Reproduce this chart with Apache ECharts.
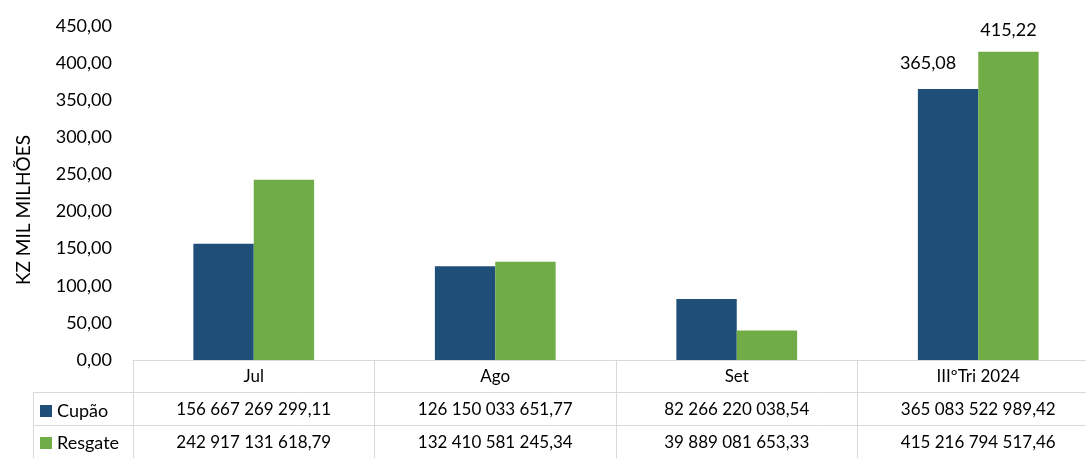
<!DOCTYPE html>
<html>
<head>
<meta charset="utf-8">
<script src="https://cdn.jsdelivr.net/npm/echarts@6/dist/echarts.min.js"></script>
<style>
  html, body { margin: 0; padding: 0; background: #fff; }
  #chart { width: 1086px; height: 458px; }
</style>
</head>
<body>
<div id="chart"></div>
<script>
// Periods shown along the category axis
const categories = ['Jul', 'Ago', 'Set', 'IIIºTri 2024'];
// Amounts in Kwanzas
const cupao = [156667269299.11, 126150033651.77, 82266220038.54, 365083522989.42];
const resgate = [242917131618.79, 132410581245.34, 39889081653.33, 415216794517.46];
const seriesNames = ['Cupão', 'Resgate'];
const yTicks = { min: 0, max: 450, interval: 50 };

const FONT = 'Lato';
const GRID_COLOR = '#d9d9d9';
const COLORS = ['#1f4e79', '#70ad47'];

// Portuguese-style number: space thousands separator, comma decimals
function fmt(v) {
  const parts = v.toFixed(2).split('.');
  return parts[0].replace(/\B(?=(\d{3})+(?!\d))/g, ' ') + ',' + parts[1];
}
const toMilMilhoes = v => v / 1e9;

const cupaoBars = cupao.map(toMilMilhoes);
const resgateBars = resgate.map(toMilMilhoes);
const last = categories.length - 1;

function withLastLabel(values, labelOpts) {
  return values.map((v, i) => i === last
    ? { value: v, label: Object.assign({ show: true, formatter: p => fmt(p.value) }, labelOpts) }
    : v);
}

const chart = echarts.init(document.getElementById('chart'));
chart.setOption({
  animation: false,
  textStyle: { fontFamily: FONT },
  color: COLORS,
  legend: {
    data: seriesNames,
    orient: 'vertical',
    left: 35,
    top: 397,
    itemWidth: 12,
    itemHeight: 12,
    itemGap: 14,
    icon: 'rect',
    selectedMode: false,
    textStyle: { fontFamily: FONT, fontSize: 18, color: '#000' }
  },
  grid: { left: 133, top: 26, width: 966, height: 334, outerBoundsMode: 'none', containLabel: false },
  xAxis: {
    type: 'category',
    data: categories,
    axisLine: { lineStyle: { color: GRID_COLOR, width: 1 } },
    axisTick: { show: true, length: 98, interval: 0, lineStyle: { color: GRID_COLOR, width: 1 } },
    axisLabel: {
      interval: 0,
      margin: 0,
      formatter: (val, idx) =>
        '{h|' + val + '}\n{v|' + fmt(cupao[idx]) + '}\n{v|' + fmt(resgate[idx]) + '}',
      rich: {
        h: { fontFamily: FONT, fontSize: 17, color: '#000', lineHeight: 33 },
        v: { fontFamily: FONT, fontSize: 17, color: '#000', lineHeight: 33 }
      }
    }
  },
  yAxis: {
    type: 'value',
    min: yTicks.min,
    max: yTicks.max,
    interval: yTicks.interval,
    name: 'KZ MIL MILHÕES',
    nameLocation: 'middle',
    nameRotate: 90,
    nameGap: 100,
    nameTextStyle: { fontFamily: FONT, fontSize: 19, color: '#000', padding: [0, 34, 0, 0] },
    axisLine: { show: false },
    axisTick: { show: false },
    splitLine: { show: false },
    axisLabel: {
      margin: 21,
      fontFamily: FONT,
      fontSize: 18,
      color: '#000',
      formatter: v => v.toFixed(2).replace('.', ',')
    }
  },
  graphic: [
    { type: 'line', silent: true, shape: { x1: 33, y1: 392.5, x2: 1086, y2: 392.5 }, style: { stroke: GRID_COLOR, lineWidth: 1 } },
    { type: 'line', silent: true, shape: { x1: 33, y1: 425.5, x2: 1086, y2: 425.5 }, style: { stroke: GRID_COLOR, lineWidth: 1 } },
    { type: 'line', silent: true, shape: { x1: 33.5, y1: 392, x2: 33.5, y2: 458 }, style: { stroke: GRID_COLOR, lineWidth: 1 } }
  ],
  series: [
    {
      name: seriesNames[0],
      type: 'bar',
      barCategoryGap: '50%',
      barGap: '0%',
      data: withLastLabel(cupaoBars, { position: 'top', offset: [-20, -12], fontFamily: FONT, fontSize: 18, color: '#000' })
    },
    {
      name: seriesNames[1],
      type: 'bar',
      barCategoryGap: '50%',
      barGap: '0%',
      data: withLastLabel(resgateBars, { position: 'top', offset: [0, -8], fontFamily: FONT, fontSize: 18, color: '#000' })
    }
  ]
});
</script>
</body>
</html>
